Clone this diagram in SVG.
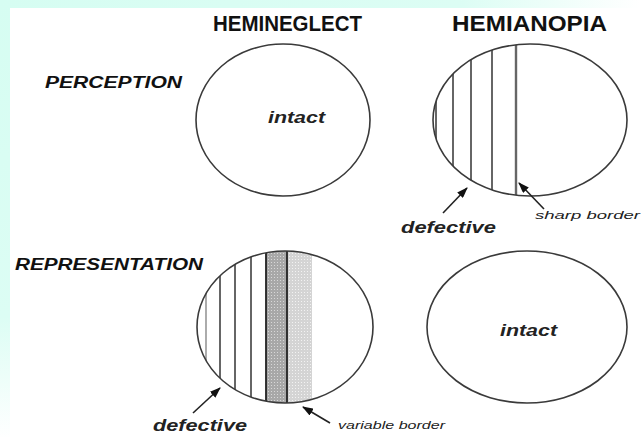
<svg xmlns="http://www.w3.org/2000/svg" width="642" height="437" viewBox="0 0 642 437">
<style>
.ell{fill:none;stroke:#3a3a3a;stroke-width:1.6}
.hat{stroke:#333;stroke-width:1.5}
.hdr{font-family:"Liberation Sans",Arial,sans-serif;font-weight:bold;font-size:22px;fill:#111}
.row{font-family:"Liberation Sans",Arial,sans-serif;font-weight:bold;font-style:italic;font-size:16px;fill:#111}
.lbl{font-family:"Liberation Sans",Arial,sans-serif;font-weight:bold;font-style:italic;font-size:16px;fill:#222}
.sm{font-family:"Liberation Sans",Arial,sans-serif;font-style:italic;font-size:11px;fill:#222}
.arr{stroke:#222;stroke-width:1.6;fill:none;marker-end:url(#ah)}
</style>
<defs>
<radialGradient id="bg" gradientUnits="userSpaceOnUse" cx="0" cy="0" r="1" gradientTransform="scale(640,440)">
<stop offset="0" stop-color="#d6fdf2"/>
<stop offset="0.72" stop-color="#dcfdf4"/>
<stop offset="1" stop-color="#ffffff"/>
</radialGradient>
<marker id="ah" markerUnits="userSpaceOnUse" markerWidth="11" markerHeight="8" refX="10" refY="4" orient="auto">
<path d="M0,0 L11,4 L0,8 z" fill="#111"/>
</marker>
<pattern id="dk" patternUnits="userSpaceOnUse" width="3" height="3">
<rect width="3" height="3" fill="#a8a8a8"/>
<rect x="1" y="1" width="1" height="1" fill="#d8d8d8"/>
</pattern>
<pattern id="lt" patternUnits="userSpaceOnUse" width="3" height="3">
<rect width="3" height="3" fill="#d4d4d4"/>
<rect x="1" y="1" width="1" height="1" fill="#f2f2f2"/>
</pattern>
<clipPath id="c2"><ellipse cx="530" cy="120" rx="97" ry="76"/></clipPath>
<clipPath id="c3"><ellipse cx="285" cy="327" rx="88" ry="76"/></clipPath>
</defs>
<rect width="642" height="437" fill="url(#bg)"/>
<rect x="10" y="8" width="632" height="429" fill="#ffffff"/>

<g id="headers">
<text class="hdr" x="213" y="31" textLength="149" lengthAdjust="spacingAndGlyphs">HEMINEGLECT</text>
<text class="hdr" x="452" y="31" textLength="155" lengthAdjust="spacingAndGlyphs">HEMIANOPIA</text>
<text class="row" x="45" y="88" textLength="137" lengthAdjust="spacingAndGlyphs">PERCEPTION</text>
<text class="row" x="15" y="270" textLength="188" lengthAdjust="spacingAndGlyphs">REPRESENTATION</text>
</g>

<g id="perception-hemineglect">
<ellipse class="ell" cx="283" cy="120" rx="87" ry="76"/>
<text class="lbl" x="268" y="123" textLength="57" lengthAdjust="spacingAndGlyphs">intact</text>
</g>

<g id="perception-hemianopia">
<g clip-path="url(#c2)">
<line class="hat" x1="436" y1="40" x2="436" y2="200"/>
<line class="hat" x1="453" y1="40" x2="453" y2="200"/>
<line class="hat" x1="471" y1="40" x2="471" y2="200"/>
<line class="hat" x1="492" y1="40" x2="492" y2="200"/>
<line x1="516" y1="40" x2="516" y2="200" stroke="#666" stroke-width="2.4"/>
</g>
<ellipse class="ell" cx="530" cy="120" rx="97" ry="76"/>
<text class="lbl" x="401" y="233" textLength="95" lengthAdjust="spacingAndGlyphs">defective</text>
<text class="sm" x="535" y="219" textLength="105" lengthAdjust="spacingAndGlyphs">sharp border</text>
</g>

<g id="representation-hemineglect">
<g clip-path="url(#c3)">
<rect x="266" y="245" width="21" height="165" fill="url(#dk)"/>
<rect x="287" y="245" width="25" height="165" fill="url(#lt)"/>
<line x1="206" y1="245" x2="206" y2="410" stroke="#888" stroke-width="1.4"/>
<line class="hat" x1="220" y1="245" x2="220" y2="410"/>
<line class="hat" x1="235" y1="245" x2="235" y2="410"/>
<line class="hat" x1="251" y1="245" x2="251" y2="410"/>
<line x1="266" y1="245" x2="266" y2="410" stroke="#222" stroke-width="1.8"/>
<line x1="287" y1="245" x2="287" y2="410" stroke="#222" stroke-width="1.8"/>
</g>
<ellipse class="ell" cx="285" cy="327" rx="88" ry="76"/>
<text class="lbl" x="153" y="431" textLength="94" lengthAdjust="spacingAndGlyphs">defective</text>
<text class="sm" x="338" y="429" textLength="107" lengthAdjust="spacingAndGlyphs">variable border</text>
</g>

<g id="representation-hemianopia">
<ellipse class="ell" cx="527" cy="327" rx="100" ry="76"/>
<text class="lbl" x="500" y="336" textLength="57" lengthAdjust="spacingAndGlyphs">intact</text>
</g>

<g id="connectors">
<line class="arr" x1="443" y1="213" x2="467" y2="188"/>
<line class="arr" x1="544" y1="209" x2="519" y2="183"/>
<line class="arr" x1="193" y1="413" x2="220" y2="388"/>
<line class="arr" x1="330" y1="423" x2="303" y2="407"/>
</g>
</svg>
